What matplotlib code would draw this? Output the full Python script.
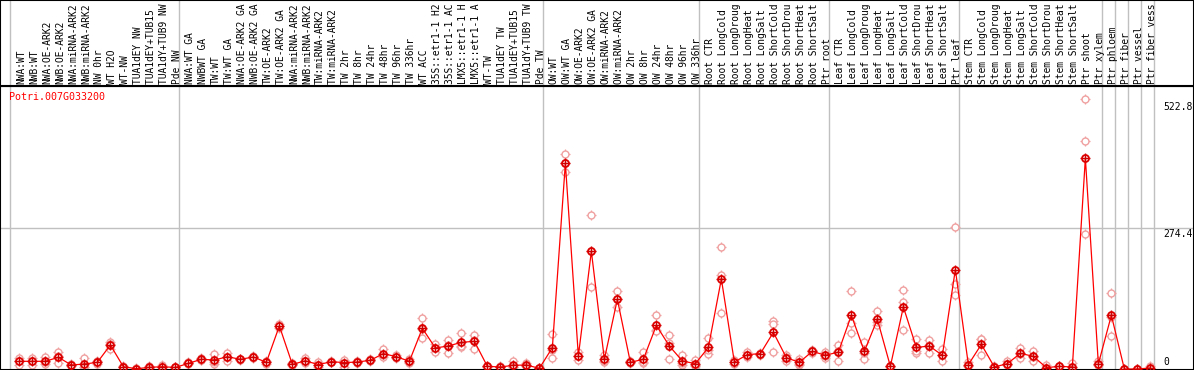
import matplotlib
matplotlib.use("Agg")
import matplotlib.pyplot as plt

GENE = "Potri.007G033200"

LABELS = [
    # group 1
    "NWA:WT", "NWB:WT", "NWA:OE-ARK2", "NWB:OE-ARK2", "NWA:miRNA-ARK2", "NWB:miRNA-ARK2",
    "NW 0hr", "WT H2O", "WT-NW", "TUA1dEY NW", "TUA1dEY+TUB15 NW", "TUA1dY+TUB9 NW", "Pde NW",
    # group 2
    "NWA:WT GA", "NWBWT GA", "TW:WT", "TW:WT GA", "NWA:OE-ARK2 GA", "NWB:OE-ARK2 GA",
    "TW:OE-ARK2", "TW:OE-ARK2 GA", "NWA:miRNA-ARK2 GA", "NWB:miRNA-ARK2 GA", "TW:miRNA-ARK2",
    "TW:miRNA-ARK2 GA", "TW 2hr", "TW 8hr", "TW 24hr", "TW 48hr", "TW 96hr", "TW 336hr", "WT ACC",
    "35S::etr1-1 H2O", "35S::etr1-1 ACC", "LMX5::etr1-1 H2O", "LMX5::etr1-1 ACC", "WT-TW",
    "TUA1dEY TW", "TUA1dEY+TUB15 TW", "TUA1dY+TUB9 TW", "Pde TW",
    # group 3
    "OW:WT", "OW:WT GA", "OW:OE-ARK2", "OW:OE-ARK2 GA", "OW:miRNA-ARK2", "OW:miRNA-ARK2 GA",
    "OW 2hr", "OW 8hr", "OW 24hr", "OW 48hr", "OW 96hr", "OW 336hr",
    # group 4
    "Root CTR", "Root LongCold", "Root LongDrought", "Root LongHeat", "Root LongSalt",
    "Root ShortCold", "Root ShortDrought", "Root ShortHeat", "Root ShortSalt", "Ptr root",
    # group 5
    "Leaf CTR", "Leaf LongCold", "Leaf LongDrought", "Leaf LongHeat", "Leaf LongSalt",
    "Leaf ShortCold", "Leaf ShortDrought", "Leaf ShortHeat", "Leaf ShortSalt", "Ptr leaf",
    # group 6
    "Stem CTR", "Stem LongCold", "Stem LongDrought", "Stem LongHeat", "Stem LongSalt",
    "Stem ShortCold", "Stem ShortDrought", "Stem ShortHeat", "Stem ShortSalt", "Ptr shoot",
    "Ptr xylem",
    # single columns
    "Ptr phloem", "Ptr fiber", "Ptr vessel", "Ptr fiber vessel",
]

GROUP_SIZES = [13, 28, 12, 10, 10, 11, 1, 1, 1, 1]

MEANS = [
    15, 15, 15, 22.8, 7.8, 9.7, 13, 46.8, 4.5, 0.5, 3.2, 4.5, 3,
    11, 18.9, 17.5, 24, 18.9, 23.4, 13, 83.9, 9, 16, 8.5, 14.3, 12.4, 13.6, 17, 30,
    24, 15, 79.3, 41, 44.9, 52, 54, 5.2, 3.9, 7.2, 7.8, 1.3,
    41.6, 401, 25.4, 229.5, 18.9, 135.9, 13, 18.9, 85, 44.9, 15.6, 10.4,
    42, 175.5, 13.6, 28, 30, 71.5, 22, 13, 34.5, 26.7,
    33, 104.7, 34.5, 96.9, 5.2, 121, 42, 44.9, 26.7, 194,
    8.5, 48, 3.9, 10.4, 30.5, 24.7, 2.6, 5.2, 3.9, 411, 9.75,
    104.7, 0, 0, 2,
]

REPLICATES = [
    [22, 8, 15], [22, 8, 15], [23, 9, 13], [32.5, 11, 25], [9, 6.5, 8], [21, 4, 4],
    [16, 9.5, 13.5], [52, 39, 49], [5, 4, 4.5], [1, 0.5, 0], [5.5, 2, 2], [7.5, 3, 3],
    [3.5, 2.5, 3],
    [13, 9, 11], [21, 17, 18.5], [28.6, 9.8, 14], [31.9, 16, 24], [20, 17, 19.5],
    [25, 21.5, 23.5], [16, 9, 14], [88, 80, 84], [11, 8, 8], [21, 11, 16], [13, 4, 8.5],
    [16, 13, 14], [15, 3.5, 18.5], [15, 12, 14], [19, 15, 17], [39, 24, 27],
    [27, 21, 24], [20, 11, 14], [98.8, 61, 78], [48, 34, 41], [56.5, 30.5, 47.5],
    [69.5, 42, 44.5], [65.6, 39, 57.5], [6, 4.5, 5], [5, 3, 3.5], [15, 3, 3.5],
    [11, 6, 6.5], [2, 1, 1],
    [67.6, 20.8, 36.5], [418.6, 384, 401], [34, 17, 25], [299.7, 159, 230],
    [27, 14, 15.5], [151.5, 120, 136], [15, 11, 13], [33, 11, 12.7], [104.7, 77, 73.5],
    [65.6, 18.9, 50], [28, 7, 11.8], [17.5, 7, 6.7],
    [60.5, 28.6, 37], [237, 182.6, 108.5], [17.5, 9, 14.3], [33, 24, 27], [32, 28, 30],
    [93, 88, 33], [28, 15, 23], [20, 8.5, 10.5], [37, 32, 34.5], [33, 21, 26],
    [47.5, 16, 35.5], [153, 70.9, 90], [52.6, 18.9, 32], [112.5, 86.5, 91.7],
    [6, 4.5, 5], [153.4, 130.6, 75.4], [57.9, 31.9, 36], [56.5, 31.9, 46.3],
    [38.4, 15, 26.7], [276, 165, 143.6],
    [14, 6, 5.5], [59, 27.3, 57.7], [5, 3, 3.7], [15, 7, 9], [41, 22, 28.5],
    [34.5, 15.6, 24], [7, 0.5, 0.3], [6, 4.5, 5], [11, 0.5, 0.2], [527, 444, 262.6],
    [15, 7, 7.3],
    [147.5, 64.4, 102.2], [0, 0, 0], [0, 0, 0], [6, 0, 0],
]

Y_TICKS = [0, 274.4, 522.8]

W, H = 1194, 370
HEADER_PX = 86
MAX_CHARS = 14  # header is only tall enough for 14 characters
MONO = "DejaVu Sans Mono"
GRID = "#c0c0c0"

fig = plt.figure(figsize=(W / 100, H / 100), dpi=100)

# column k occupies pixels 10+13k .. 23+13k
x_lo = -10 / 13
x_hi = (W - 10) / 13
# pixel 369 -> 0, pixel 228.3 -> 274.4
upp = 274.4 / (369 - 228.3)
y_lo = -(H - 369) * upp
y_hi = (369 - HEADER_PX) * upp

ax = fig.add_axes([0, 0, 1, (H - HEADER_PX) / H])
hx = fig.add_axes([0, (H - HEADER_PX) / H, 1, HEADER_PX / H])

for a in (ax, hx):
    a.set_xlim(x_lo, x_hi)
    a.set_xticks([])
    a.set_yticks([])
    for s in a.spines.values():
        s.set_color("black")
        s.set_linewidth(1.5)
ax.set_ylim(y_lo, y_hi)
hx.set_ylim(HEADER_PX, 0)

# group separators
bounds = [0]
for g in GROUP_SIZES:
    bounds.append(bounds[-1] + g)
for b in bounds:
    ax.axvline(b, color=GRID, lw=1.0, zorder=1)
    hx.axvline(b, color=GRID, lw=1.0, zorder=1)
ax.axhline(Y_TICKS[1], color=GRID, lw=1.0, zorder=1)

xs = [i + 0.72 for i in range(len(MEANS))]

# replicates
for x, reps in zip(xs, REPLICATES):
    rx = [x] * len(reps)
    ax.plot(rx, reps, ls="none", marker="+", ms=7.5, mew=0.9, color="#f0a0a0", zorder=2)
    ax.plot(rx, reps, ls="none", marker="o", ms=5, mew=1.0, mfc="white",
            mec="#f0a0a0", zorder=2)

# mean line and markers
ax.plot(xs, MEANS, color="red", lw=0.9, zorder=3)
ax.plot(xs, MEANS, ls="none", marker="+", ms=7.5, mew=1.0, color="#cc0000", zorder=4)
ax.plot(xs, MEANS, ls="none", marker="o", ms=5, mew=1.3, mfc="none", mec="#dd0000", zorder=5)

# column labels (cut to what fits in the header, as in the original)
for x, lab in zip(xs, LABELS):
    hx.text(x + 0.12, 83.5, lab[:MAX_CHARS], rotation=90, ha="center", va="bottom",
            family=MONO, fontsize=6.9, color="black")

# y value labels
lab_x = (1163 - 10) / 13
for v in Y_TICKS:
    txt = f"{v:g}" if v == 0 else f"{v:.1f}"
    if v == 0:
        ax.annotate(txt, (lab_x, v), xytext=(0, 2), textcoords="offset pixels",
                    ha="left", va="bottom", family=MONO, fontsize=7)
    else:
        ax.annotate(txt, (lab_x, v), xytext=(0, -1), textcoords="offset pixels",
                    ha="left", va="top", family=MONO, fontsize=7, annotation_clip=False)

fig.text(9 / W, 1 - 97.5 / H, GENE, color="red", family=MONO, fontsize=7.2,
         ha="left", va="center")

fig.savefig("out.png", dpi=100)
